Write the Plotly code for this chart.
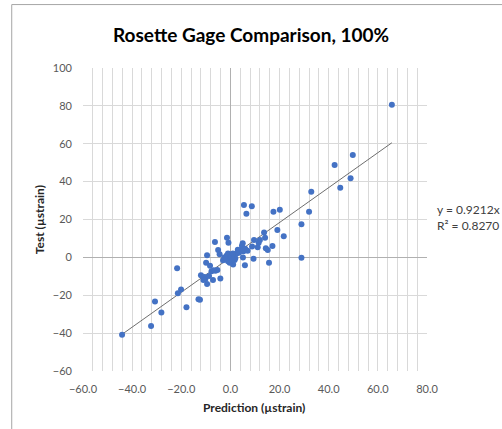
import plotly.graph_objects as go

prediction = [65.7, 49.8, 42.4, 48.9, 44.7, 32.9, 32.0, 28.9, 28.9, 20.1, 17.5, 21.7, 19.1, 13.7, 14.1,
              14.4, 15.2, 17.1, 12.0, 11.5, 11.1, 9.6, 8.8, 9.4, 5.5, 8.7, 6.5, 5.0, 4.7, 5.3, 5.1,
              -1.4, -0.8, -6.3, -5.0, -4.4, -9.5, 5.9, 15.7, 1.1, 1.7, -4.1, -5.3, -6.1, -7.1, -9.5,
              -9.9, -44.1, -32.3, -30.7, -28.1, -21.7, -21.4, -20.1, -17.9, -13.0, -12.4, -8.3, -10.6,
              -10.2, -8.7, -7.7, -11.0, 3.5, 4.2, 2.5, -1.5, -1.0, 0.0, -0.5, -2.0, -1.0, 0.5, 1.0,
              -0.3, -3.0, 2.0, 6.0, 3.0, -2.5, 0.8, -6.8, -12.0, 7.0]
test = [80.6, 54.0, 48.8, 41.8, 36.7, 34.7, 24.1, 17.5, -0.2, 25.2, 24.1, 11.1, 14.4, 13.2, 10.4,
        4.8, 3.9, 6.0, 9.2, 7.7, 5.3, 9.2, 5.8, -0.7, 27.7, 27.0, 23.1, 7.4, 6.1, 3.2, 0.0,
        10.4, 7.7, 8.1, 3.9, 1.7, 1.1, -4.1, -2.8, -3.7, -1.4, -11.1, -6.7, -7.1, -12.0, -14.1,
        -2.8, -40.9, -36.2, -23.3, -29.1, -5.8, -18.9, -16.9, -26.3, -22.1, -22.4, -4.4, -10.4,
        -11.4, -9.9, -7.3, -12.0, 2.5, 3.9, 2.0, 1.0, 2.0, 1.5, -0.5, -1.0, -2.0, 0.5, 2.0,
        -2.8, -1.5, -0.5, 4.5, 4.0, 0.0, -0.8, -6.8, -9.5, 3.5]

slope = 0.9212
r_squared = 0.8270
x_ticks = [-60, -40, -20, 0, 20, 40, 60, 80]
y_ticks = [-60, -40, -20, 0, 20, 40, 60, 80, 100]

FONT = "Lato"
W, H = 502, 429
L, R, T, B = 83.3, 427.4, 68.3, 370.7

def px(xp):
    return (xp - L) / (R - L)

def py(yp):
    return (B - yp) / (B - T)

x_line = [min(prediction), max(prediction)]
y_line = [slope * v for v in x_line]

fig = go.Figure()
fig.add_trace(go.Scatter(x=x_line, y=y_line, mode="lines",
                         line=dict(color="#6E6E6E", width=1), hoverinfo="skip"))
fig.add_trace(go.Scatter(x=prediction, y=test, mode="markers",
                         marker=dict(color="#4472C4", size=6)))

fig.update_layout(
    width=W, height=H,
    margin=dict(l=L, r=W - R, t=T, b=H - B),
    paper_bgcolor="white", plot_bgcolor="white",
    showlegend=False,
    font=dict(family=FONT, color="#595959", size=11),
    xaxis=dict(range=[-60, 80], tickvals=x_ticks, tickformat=".1f",
               showgrid=True, gridcolor="#D9D9D9", gridwidth=1,
               minor=dict(dtick=4, tick0=0, showgrid=True, gridcolor="#D9D9D9", gridwidth=1),
               zeroline=True, zerolinecolor="#B0B0B0", zerolinewidth=1,
               showline=False, ticks="", ticklabelstandoff=10,
               tickfont=dict(family=FONT, size=11, color="#595959")),
    yaxis=dict(range=[-60, 100], tickvals=y_ticks,
               showgrid=True, gridcolor="#D9D9D9", gridwidth=1,
               zeroline=True, zerolinecolor="#B0B0B0", zerolinewidth=1,
               showline=False, ticks="", ticklabelstandoff=10,
               tickfont=dict(family=FONT, size=11, color="#595959")),
)

# outer chart border
fig.add_shape(type="rect", xref="paper", yref="paper",
              x0=px(12), x1=px(W + 20), y0=py(H + 20), y1=py(5),
              line=dict(color="#A6A6A6", width=1), fillcolor="rgba(0,0,0,0)", layer="below")

fig.add_annotation(text="<b>Rosette Gage Comparison, 100%</b>", xref="paper", yref="paper",
                   x=px(251.5), y=py(35), showarrow=False, xanchor="center", yanchor="middle",
                   font=dict(family=FONT, size=19, color="#000000"))
fig.add_annotation(text="<b>Prediction (µstrain)</b>", xref="paper", yref="paper",
                   x=px(254.5), y=py(407), showarrow=False, xanchor="center", yanchor="middle",
                   font=dict(family=FONT, size=12, color="#262626"))
fig.add_annotation(text="<b>Test (µstrain)</b>", xref="paper", yref="paper",
                   x=px(40), y=py(219.5), showarrow=False, textangle=-90,
                   xanchor="center", yanchor="middle",
                   font=dict(family=FONT, size=12, color="#262626"))
fig.add_annotation(text=f"y = {slope:.4f}x<br>R² = {r_squared:.4f}", xref="paper", yref="paper",
                   x=px(435), y=py(218), showarrow=False, xanchor="left", yanchor="middle", align="left",
                   font=dict(family=FONT, size=12, color="#404040"))

fig.write_html("out.html")
